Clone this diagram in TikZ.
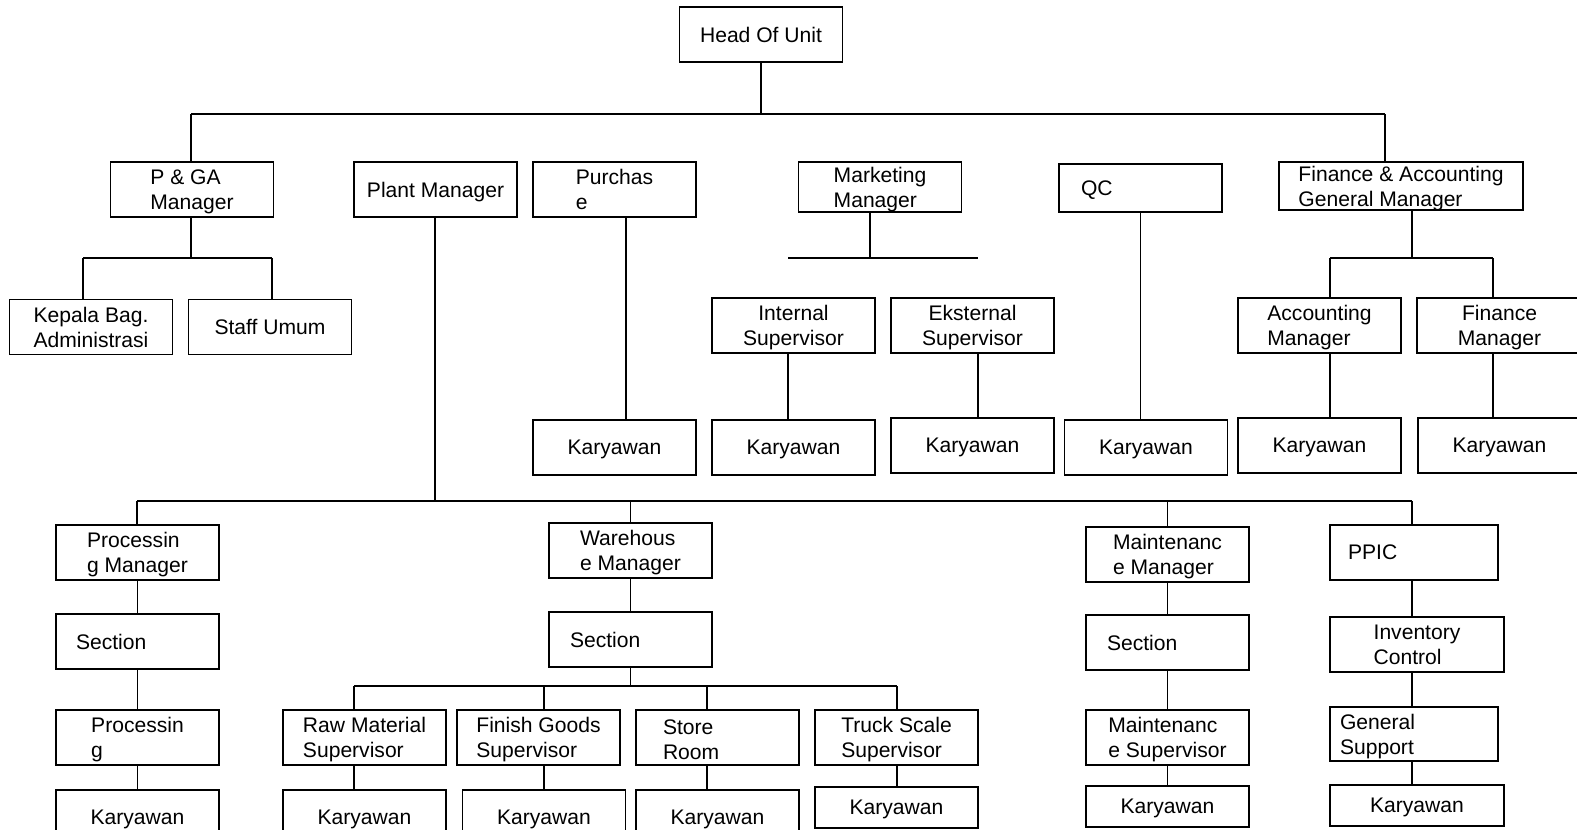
\documentclass[tikz,border=0pt]{standalone}
\usepackage{fontspec}
\setmainfont{Liberation Sans}
\usetikzlibrary{positioning,calc}

\begin{document}
\begin{tikzpicture}[x=0.02cm,y=-0.02cm,line width=0.7pt,
	every node/.style={draw,rectangle,line width=0.7pt,minimum width=3.26cm,minimum height=1.1cm,inner sep=0pt,align=left,text depth=0pt,font=\fontsize{12}{14.2}\selectfont},
	padded/.style 2 args={text width=#1,inner xsep=#2},
	kar/.style={minimum height=0.82cm}]

\useasboundingbox (0,0) rectangle (1577,829);

\node(head) at (761,34.5) {Head Of Unit};

\node(pga) at (192,189.5) {P \& GA\\Manager};
\node(plant) at (435.5,189.5) {Plant Manager};
\node(purch) at (614.5,189.5) {Purchas\\e};
\node[minimum height=1cm](mkt) at (880,187) {Marketing\\Manager};
\node[minimum height=0.96cm,padded={2.38cm}{0.44cm}](qc) at (1140.5,188) {QC};
\node[minimum width=4.88cm,minimum height=0.96cm](fa) at (1401,186) {Finance \& Accounting\\General Manager};

\node[align=center](kepala) at (91,327) {Kepala Bag.\\Administrasi};
\node(staff) at (270,327) {Staff Umum};
\node[align=center](intsup) at (793.5,325.5) {Internal\\Supervisor};
\node[align=center](eksup) at (972.5,325.5) {Eksternal\\Supervisor};
\node(accm) at (1319.5,325.5) {Accounting\\Manager};
\node[align=center,minimum width=3.3cm](finm) at (1499.5,325.5) {Finance\\Manager};

\foreach \n/\x/\y in {kpur/614.5/447.5,kint/793.5/447.5,keks/972.5/445.5,kqc/1146/447.5,kacc/1319.5/445.5,kfin/1499.5/445.5,kproc/137.5/817.5,krms/364.5/817.5,kfgs/544/817.5,kstr/717.5/817.5}{
	\node(\n) at (\x,\y) {Karyawan};
}
\foreach \n/\x/\y/\w in {ktss/896.5/807.5/3.26,kmt/1167.5/806.5/3.26,kppic/1417/805.5/3.48}{
	\node[kar,minimum width=\w cm](\n) at (\x,\y) {Karyawan};
}

\node(procm) at (137.5,552.5) {Processin\\g Manager};
\node[padded={2.46cm}{0.4cm}](psec) at (137.5,641.5) {Section};
\node(proc) at (137.5,737.5) {Processin\\g};

\node(whm) at (630.5,550.5) {Warehous\\e Manager};
\node[padded={2.42cm}{0.42cm}](wsec) at (630.5,639.5) {Section};
\node(rms) at (364.5,737.5) {Raw Material\\Supervisor};
\node(fgs) at (538.5,737.5) {Finish Goods\\Supervisor};
\node[padded={2.18cm}{0.54cm},text depth=12pt](str) at (717.5,737.5) {Store\\Room};
\node(tss) at (896.5,737.5) {Truck Scale\\Supervisor};

\node(mtm) at (1167.5,554.5) {Maintenanc\\e Manager};
\node[padded={2.42cm}{0.42cm}](msec) at (1167.5,642.5) {Section};
\node(msup) at (1167.5,737.5) {Maintenanc\\e Supervisor};

\node[minimum width=3.36cm,padded={2.64cm}{0.36cm}](ppic) at (1414,552.5) {PPIC};
\node[minimum width=3.48cm](inv) at (1417,644.5) {Inventory\\Control};
\node[minimum width=3.36cm,minimum height=1.08cm,padded={2.96cm}{0.2cm},text depth=13.3pt](gs) at (1414,734) {General\\Support};

\coordinate(tL) at (191,114);
\coordinate(tM) at (761,114);
\coordinate(tR) at (1385,114);
\draw(head)--(tM);
\draw(tL)--(tR);
\draw(tL)--(pga.north-|tL);
\draw(tR)--(fa.north-|tR);

\coordinate(pL) at (83,258);
\coordinate(pM) at (191,258);
\coordinate(pR) at (272,258);
\draw(pga.south-|pM)--(pM);
\draw(pL)--(pR);
\foreach \c/\a in {pL/kepala,pR/staff}{
	\draw(\c)--(\a.north-|\c);
}

\coordinate(pu) at (626,300);
\draw(purch.south-|pu)--(kpur.north-|pu);

\coordinate(mL) at (788,258);
\coordinate(mM) at (870,258);
\coordinate(mR) at (978,258);
\draw(mkt.south-|mM)--(mM);
\draw(mL)--(mR);
\draw(intsup.south-|mL)--(kint.north-|mL);
\draw(eksup.south-|mR)--(keks.north-|mR);

\draw(qc.south)--(qc.south|-kqc.north);

\coordinate(aL) at (1330,258);
\coordinate(aM) at (1412,258);
\coordinate(aR) at (1493,258);
\draw(fa.south-|aM)--(aM);
\draw(aL)--(aR);
\foreach \c/\a/\b in {aL/accm/kacc,aR/finm/kfin}{
	\draw(\c)--(\a.north-|\c) (\a.south-|\c)--(\b.north-|\c);
}

\coordinate(bL) at (137,501);
\coordinate(bM) at (435,501);
\coordinate(bR) at (1412,501);
\draw(plant.south-|bM)--(bM);
\draw(bL)--(bR);
\draw(bL)--(procm.north-|bL);
\draw(whm.north)--(whm.north|-bL);
\draw(mtm.north)--(mtm.north|-bL);
\draw(bR)--(ppic.north-|bR);

\foreach \a/\b in {procm/psec,psec/proc,proc/kproc,whm/wsec,mtm/msec,msec/msup,msup/kmt}{
	\draw(\a)--(\b);
}
\foreach \a/\b in {ppic/inv,inv/gs,gs/kppic}{
	\draw(\a.south-|bR)--(\b.north-|bR);
}

\coordinate(wL) at (354,686);
\coordinate(wF) at (544,686);
\coordinate(wS) at (707,686);
\coordinate(wR) at (897,686);
\draw(wsec)--(wsec|-wL);
\draw(wL)--(wR);
\foreach \c/\a/\b in {wL/rms/krms,wF/fgs/kfgs,wS/str/kstr,wR/tss/ktss}{
	\draw(\c)--(\a.north-|\c) (\a.south-|\c)--(\b.north-|\c);
}
\end{tikzpicture}
\end{document}
